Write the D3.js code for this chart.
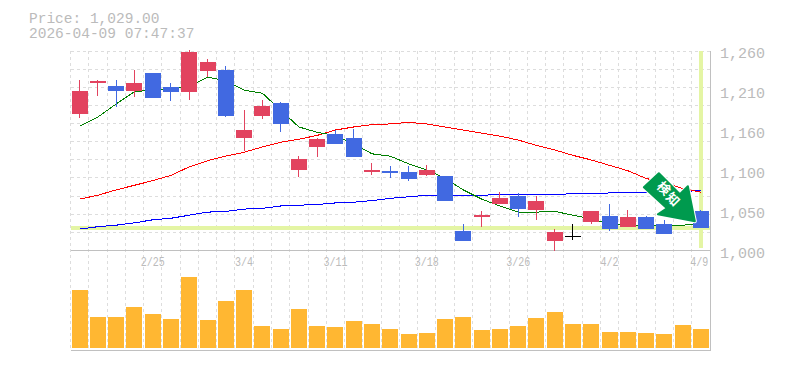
<!DOCTYPE html>
<html>
<head>
<meta charset="utf-8">
<script src="https://cdnjs.cloudflare.com/ajax/libs/d3/7.8.5/d3.min.js"></script>
<style>
  html, body { margin: 0; padding: 0; background: #fff; }
  text { font-family: "Liberation Mono", monospace; fill: #bbb; }
</style>
</head>
<body>
<div id="frame"></div>
<script>
// daily data
const dates = ["2/18","2/19","2/20","2/24","2/25","2/26","2/27","3/2","3/3","3/4","3/5","3/6","3/9","3/10","3/11","3/12","3/13","3/16","3/17","3/18","3/19","3/23","3/24","3/25","3/26","3/27","3/30","3/31","4/1","4/2","4/3","4/6","4/7","4/8","4/9"];
const opens = [1178,1218,1214,1208,1231,1213,1207,1234,1235,1147,1175,1192,1105,1135,1152,1147,1102,1104,1102,1098,1097,1026,1044,1060,1071,1053,1012,1019,1037,1045,1031,1044,1035,1066,1052];
const closes = [1208,1221,1208,1218,1199,1207,1259,1246,1175,1157,1188,1165,1119,1145,1139,1122,1105,1101,1093,1105,1065,1013,1046,1068,1054,1065,1024,1019,1052,1028,1044,1028,1022,1047,1029];
const highs = [1222,1222,1222,1235,1231,1218,1261,1250,1240,1183,1196,1194,1123,1146,1157,1158,1114,1110,1110,1111,1097,1034,1052,1076,1075,1071,1028,1035,1052,1060,1053,1045,1040,1068,1053];
const lows = [1173,1201,1187,1200,1199,1195,1196,1226,1174,1130,1171,1154,1096,1122,1139,1122,1098,1094,1090,1097,1065,1012,1031,1060,1044,1040,1000,1014,1035,1025,1031,1028,1022,1047,1029];
const volumes = [58,31,31,41,34,29,71,28,47,58,22,19,39,22,21,27,24,19,14,15,29,31,18,19,22,30,36,24,24,16,16,15,14,23,19];
const ma5 = [1162,1174,1191,1207,1209,1210,1214,1226,1221,1209,1205,1183,1161,1154,1150,1139,1126,1123,1113,1105,1094,1079,1067,1058,1050,1050,1051,1046,1041,1035,1033,1033,1033,1033,1035];
const ma25 = [1067,1072,1079,1085,1091,1098,1109,1117,1123,1128,1135,1141,1145,1150,1157,1161,1164,1165,1167,1165,1161,1157,1153,1149,1144,1137,1131,1124,1118,1111,1104,1094,1088,1081,1076];
const ma75 = [1028,1031,1033,1036,1040,1042,1046,1050,1051,1054,1055,1058,1059,1060,1062,1063,1065,1068,1070,1072,1072,1072,1072,1073,1073,1073,1073,1074,1074,1075,1075,1076,1076,1077,1078];
const priceTicks = [1000,1052,1104,1156,1208,1260];
const priceTickLabels = ["1,000","1,050","1,100","1,160","1,210","1,260"];
const dateTicks = ["2/25","3/4","3/11","3/18","3/26","4/2","4/9"];
const currentPrice = 1029;
const priceLabel = "Price: 1,029.00";
const timeLabel = "2026-04-09 07:47:37";
const badgeLabel = ["検","知"];

const width = 785, height = 370;
const margin = { left: 70.5, right: 75, top: 51, priceBottom: 250.5, volumeBottom: 348 };

const svg = d3.select("#frame").append("svg")
  .attr("width", width)
  .attr("height", height)
  .style("display", "block");

const x = d3.scaleBand().domain(dates).range([margin.left, width - margin.right]);
const y = d3.scaleLinear().domain([1000, 1260]).range([margin.priceBottom, margin.top]);
const yVol = d3.scaleLinear().domain([0, 100]).range([margin.volumeBottom, margin.volumeBottom - 100]);
const cx = (d) => x(d) + x.bandwidth() / 2;

// grid
const grid = svg.append("g")
  .attr("stroke", "#ddd")
  .attr("stroke-dasharray", "3,3")
  .attr("shape-rendering", "crispEdges");
grid.selectAll(".v").data(dates).join("line")
  .attr("x1", (d) => x(d)).attr("x2", (d) => x(d))
  .attr("y1", margin.top).attr("y2", 350);
grid.selectAll(".h").data(d3.range(0, 11)).join("line")
  .attr("x1", margin.left).attr("x2", width - margin.right)
  .attr("y1", (i) => y(1260 - i * 260 / 11))
  .attr("y2", (i) => y(1260 - i * 260 / 11));

// frame lines
const frame = svg.append("g").attr("stroke", "#c0c0c0").attr("shape-rendering", "crispEdges");
frame.append("line").attr("x1", margin.left).attr("x2", width - margin.right + 0.5).attr("y1", 250.5).attr("y2", 250.5);
frame.append("line").attr("x1", margin.left).attr("x2", width - margin.right + 0.5).attr("y1", 350).attr("y2", 350);
frame.append("line").attr("x1", width - margin.right).attr("x2", width - margin.right).attr("y1", margin.top).attr("y2", 350);

// highlight of the last price and date
const hl = svg.append("g").attr("stroke", "#e4f5a4").attr("stroke-width", 4).attr("shape-rendering", "crispEdges");
hl.append("line").attr("x1", margin.left).attr("x2", width - margin.right).attr("y1", y(currentPrice) - 0.5).attr("y2", y(currentPrice) - 0.5);
hl.append("line").attr("x1", cx(dates[34])).attr("x2", cx(dates[34])).attr("y1", margin.top).attr("y2", 248);

// volume
svg.append("g").attr("fill", "#ffb732").attr("shape-rendering", "crispEdges")
  .selectAll("rect").data(dates).join("rect")
  .attr("x", (d) => cx(d) - 8)
  .attr("width", 16)
  .attr("y", (d, i) => yVol(volumes[i]))
  .attr("height", (d, i) => yVol(0) - yVol(volumes[i]));

// moving averages
function drawLine(values, color) {
  svg.append("path")
    .attr("fill", "none")
    .attr("stroke", color)
    .attr("shape-rendering", "crispEdges")
    .attr("d", d3.line().x((d, i) => cx(dates[i])).y((d) => y(d))(values));
}
drawLine(ma75, "#0000ff");
drawLine(ma25, "#ff0000");
drawLine(ma5, "#007f00");

// candles
const candleColor = (i) => closes[i] > opens[i] ? "#e2435f" : closes[i] < opens[i] ? "#4169e1" : "#000";
const candles = svg.append("g").attr("shape-rendering", "crispEdges");
candles.selectAll("line").data(dates).join("line")
  .attr("x1", cx).attr("x2", cx)
  .attr("y1", (d, i) => y(highs[i]))
  .attr("y2", (d, i) => y(lows[i]))
  .attr("stroke", (d, i) => candleColor(i));
candles.selectAll("rect").data(dates).join("rect")
  .attr("x", (d) => cx(d) - 8)
  .attr("width", 16)
  .attr("y", (d, i) => y(Math.max(opens[i], closes[i])))
  .attr("height", (d, i) => Math.max(1, Math.abs(y(opens[i]) - y(closes[i]))))
  .attr("fill", (d, i) => candleColor(i));

// y axis
const yAxis = d3.axisRight(y).tickValues(priceTicks).tickFormat((d, i) => priceTickLabels[i]).tickSize(0).tickPadding(0);
svg.append("g")
  .attr("transform", `translate(720,2)`)
  .call(yAxis)
  .call((g) => g.select(".domain").remove())
  .selectAll("text").style("font-size", "15px").attr("x", 0);

// x axis, labels are tall and narrow in the original so squeeze them
const xAxis = d3.axisBottom(x).tickValues(dateTicks).tickSize(0).tickPadding(0);
svg.append("g")
  .attr("transform", `translate(0,255)`)
  .call(xAxis)
  .call((g) => g.select(".domain").remove())
  .selectAll("text")
  .style("font-size", "13px")
  .attr("text-anchor", "middle")
  .attr("dy", 0)
  .attr("y", 11)
  .attr("x", (d) => d === "4/9" ? -2 : 0)
  .attr("transform", "scale(0.77,1)");

// header, two lines set tight
svg.append("text").attr("x", 29).attr("y", 22.5).style("font-size", "14.5px").text(priceLabel);
svg.append("text").attr("x", 29).attr("y", 38).style("font-size", "14.5px").text(timeLabel);

// badge arrow, anchored on the last bar and price
const tipX = cx(dates[34]) - 5, tipY = y(currentPrice) - 6;
const badge = svg.append("g").attr("transform", `translate(${tipX},${tipY})`);
const arrowShape = "M-1,-1L-38,-8L-29,-14L-52,-35L-37,-49L-16,-28L-8,-36Z";
badge.append("path")
  .attr("d", arrowShape)
  .attr("fill", "#fff")
  .attr("stroke", "#fff")
  .attr("stroke-width", 4)
  .attr("stroke-linejoin", "round");
badge.append("path")
  .attr("d", arrowShape)
  .attr("fill", "#009a4e")
  .attr("stroke", "#009a4e")
  .attr("stroke-width", 2)
  .attr("stroke-linejoin", "round");
badge.selectAll("text").data(badgeLabel).join("text")
  .attr("transform", (d, i) => `translate(${i === 0 ? -32 : -23},${i === 0 ? -34 : -23}) rotate(45)`)
  .attr("text-anchor", "middle")
  .attr("dy", "0.35em")
  .style("font-family", "'Noto Sans CJK JP'")
  .style("font-size", "13px")
  .style("font-weight", "bold")
  .style("fill", "#fff")
  .text((d) => d);
</script>
</body>
</html>
